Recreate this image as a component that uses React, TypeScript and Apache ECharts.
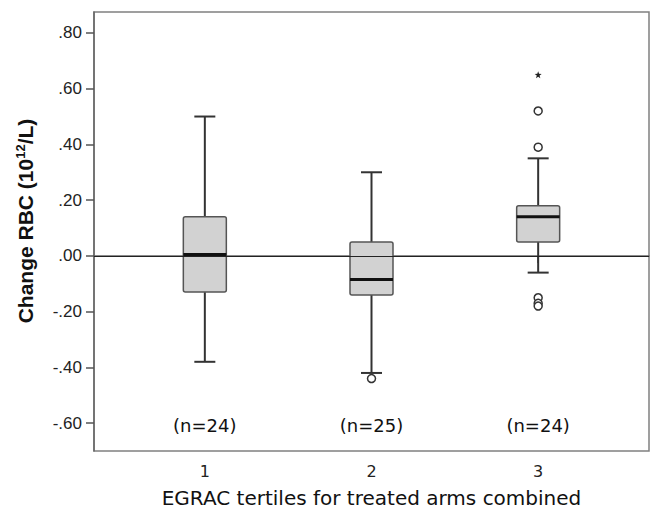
import React, { useEffect, useRef } from "react";
import * as echarts from "echarts";

const categories = [1, 2, 3];
const lowerWhisker = [-0.38, -0.42, -0.06];
const q1 = [-0.13, -0.14, 0.05];
const median = [0.005, -0.085, 0.14];
const q3 = [0.14, 0.05, 0.18];
const upperWhisker = [0.5, 0.3, 0.35];
const outliers: [number, number][] = [
  [2, -0.44],
  [3, 0.52],
  [3, 0.39],
  [3, -0.15],
  [3, -0.17],
  [3, -0.18],
];
const extremes: [number, number][] = [[3, 0.65]];
const nLabels = ["(n=24)", "(n=25)", "(n=24)"];
const yTicks = [-0.6, -0.4, -0.2, 0, 0.2, 0.4, 0.6, 0.8];

const fmtY = (v: number) => {
  const s = Math.abs(v).toFixed(2).replace(/^0/, "");
  return (v < -1e-9 ? "-" : "") + s;
};

export default function App() {
  const ref = useRef<HTMLDivElement>(null);
  useEffect(() => {
    document.body.style.margin = "0";
    if (!ref.current) return;
    const chart = echarts.init(ref.current, null, { renderer: "svg" });
    const boxData = categories.map((c, i) => [
      c,
      lowerWhisker[i],
      q1[i],
      median[i],
      q3[i],
      upperWhisker[i],
    ]);
    chart.setOption({
      animation: false,
      grid: {
        left: 94,
        top: 12,
        width: 555,
        height: 439,
        show: true,
        borderColor: "#808080",
        borderWidth: 1.5,
        backgroundColor: "transparent",
      },
      graphic: [
        {
          type: "text",
          x: 25,
          y: 221,
          rotation: Math.PI / 2,
          style: {
            text: "Change RBC (10{sup|12}/L)",
            align: "center",
            verticalAlign: "middle",
            fontFamily: "Liberation Sans",
            fontSize: 21,
            fontWeight: "bold",
            fill: "#111",
            rich: {
              sup: {
                fontFamily: "Liberation Sans",
                fontSize: 13,
                fontWeight: "bold",
                fill: "#111",
                verticalAlign: "top",
                padding: [0, 0, 9, 0],
              },
            },
          },
        },
        {
          type: "text",
          x: 371.5,
          y: 498,
          style: {
            text: "EGRAC tertiles for treated arms combined",
            align: "center",
            verticalAlign: "middle",
            fontFamily: "DejaVu Sans",
            fontSize: 20,
            lineHeight: 20,
            fill: "#111",
          },
        },
      ],
      xAxis: {
        type: "value",
        min: 0.335,
        max: 3.665,
        splitLine: { show: false },
        axisLine: { show: true, lineStyle: { color: "#666", width: 1.5 } },
        axisTick: {
          show: true,
          length: 7,
          customValues: categories,
          lineStyle: { color: "#555", width: 1.5 },
        },
        axisLabel: {
          customValues: categories,
          margin: 12,
          fontFamily: "DejaVu Sans",
          fontSize: 16,
          color: "#222",
          formatter: (v: number) => String(v),
        },
      },
      yAxis: {
        type: "value",
        min: -0.7,
        max: 0.875,
        splitLine: { show: false },
        axisLine: { show: true, lineStyle: { color: "#666", width: 1.5 } },
        axisTick: {
          show: true,
          length: 8,
          customValues: yTicks,
          lineStyle: { color: "#555", width: 1.5 },
        },
        axisLabel: {
          customValues: yTicks,
          margin: 12,
          fontFamily: "Liberation Sans",
          fontSize: 17,
          color: "#222",
          formatter: (v: number) => fmtY(v),
        },
      },
      series: [
        {
          type: "custom",
          data: boxData,
          z: 3,
          renderItem: (params: any, api: any) => {
            const x = api.value(0);
            const lo = api.coord([x, api.value(1)]);
            const b1 = api.coord([x, api.value(2)]);
            const md = api.coord([x, api.value(3)]);
            const b3 = api.coord([x, api.value(4)]);
            const hi = api.coord([x, api.value(5)]);
            const nPos = api.coord([x, -0.61]);
            const halfBox = 21.5;
            const halfCap = 10.5;
            const whisk = { stroke: "#333", lineWidth: 2 };
            return {
              type: "group",
              children: [
                {
                  type: "line",
                  shape: { x1: lo[0], y1: lo[1], x2: b1[0], y2: b1[1] },
                  style: whisk,
                },
                {
                  type: "line",
                  shape: { x1: hi[0], y1: hi[1], x2: b3[0], y2: b3[1] },
                  style: whisk,
                },
                {
                  type: "line",
                  shape: { x1: lo[0] - halfCap, y1: lo[1], x2: lo[0] + halfCap, y2: lo[1] },
                  style: whisk,
                },
                {
                  type: "line",
                  shape: { x1: hi[0] - halfCap, y1: hi[1], x2: hi[0] + halfCap, y2: hi[1] },
                  style: whisk,
                },
                {
                  type: "rect",
                  shape: {
                    x: b3[0] - halfBox,
                    y: b3[1],
                    width: halfBox * 2,
                    height: b1[1] - b3[1],
                    r: 2,
                  },
                  style: { fill: "#d2d2d2", stroke: "#555", lineWidth: 1.5 },
                },
                {
                  type: "line",
                  shape: { x1: md[0] - halfBox, y1: md[1], x2: md[0] + halfBox, y2: md[1] },
                  style: { stroke: "#111", lineWidth: 3 },
                },
                {
                  type: "text",
                  style: {
                    x: nPos[0],
                    y: nPos[1],
                    text: nLabels[params.dataIndex],
                    align: "center",
                    verticalAlign: "middle",
                    fontFamily: "DejaVu Sans",
                    fontSize: 18,
                    fill: "#111",
                  },
                },
              ],
            };
          },
        },
        {
          type: "line",
          data: [],
          z: 2,
          markLine: {
            silent: true,
            symbol: "none",
            label: { show: false },
            lineStyle: { color: "#222", width: 1, type: "solid" },
            data: [{ yAxis: 0 }],
          },
        },
        {
          type: "scatter",
          data: outliers,
          z: 4,
          symbol: "circle",
          symbolSize: 8,
          itemStyle: { color: "#fff", borderColor: "#333", borderWidth: 1.5, opacity: 1 },
        },
        {
          type: "scatter",
          data: extremes,
          z: 4,
          symbol:
            "path://M0,-10 L2.35,-3.24 L9.51,-3.09 L3.8,1.24 L5.88,8.09 L0,4 L-5.88,8.09 L-3.8,1.24 L-9.51,-3.09 L-2.35,-3.24 Z",
          symbolSize: 7,
          itemStyle: { color: "#222", opacity: 1 },
        },
      ],
    });
    return () => chart.dispose();
  }, []);
  return <div ref={ref} style={{ width: 655, height: 510 }} />;
}
